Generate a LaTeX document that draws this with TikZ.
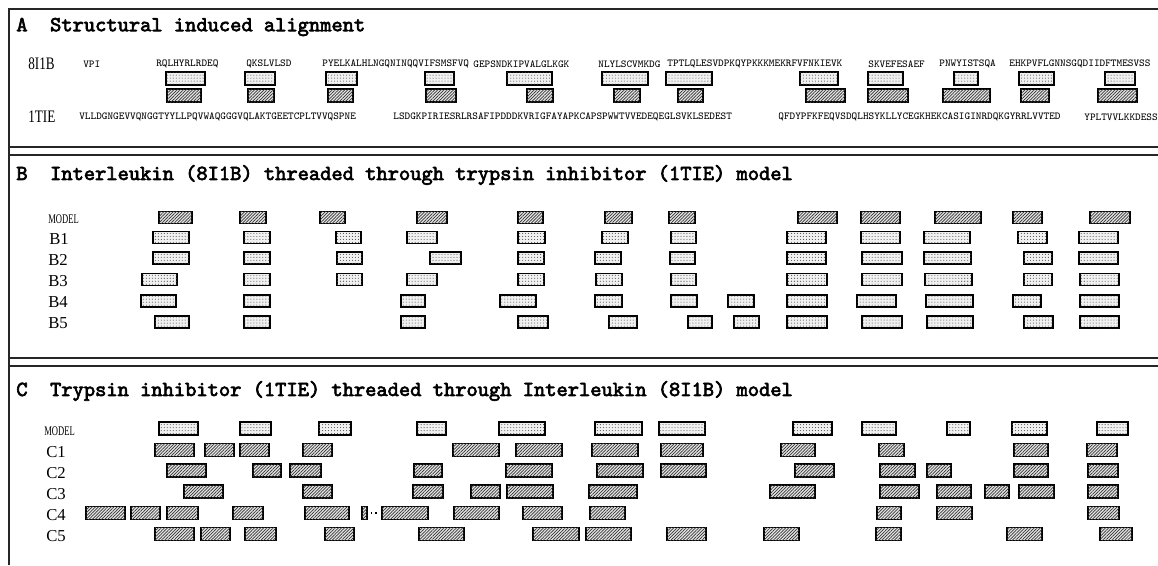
\documentclass[tikz,border=0pt]{standalone}
\usepackage{fontspec}
\setmainfont{Liberation Serif}
\newfontfamily\narrowfont[FakeStretch=0.75]{Liberation Serif}
\newfontfamily\modelfont[FakeStretch=0.65]{Liberation Serif}
\newfontfamily\titlefont[Extension=.otf, FakeBold=3]{lmmono10-regular}
\usetikzlibrary{patterns.meta}

\tikzset{
  frame/.style={line width=0.9pt, draw=black!85},
  hatchbox/.style={draw=black, line width=0.65pt, fill=black!10,
    postaction={pattern={Lines[angle=45,distance=1.25pt,line width=0.4pt]}, pattern color=black!80}},
  dotbox/.style={draw=black, line width=0.65pt, fill=black!6,
    postaction={pattern={Dots[distance=1.7pt,radius=0.3pt]}, pattern color=black!70}},
  paneltitle/.style={anchor=west, inner sep=0pt, font=\titlefont\fontsize{12.2}{14}\selectfont},
  seq/.style={anchor=west, inner sep=0pt, font=\ttfamily\fontsize{6.05}{7}\selectfont},
  rowlabel/.style={anchor=west, inner sep=0pt, font=\fontsize{9.5}{11}\selectfont},
  namelabel/.style={anchor=west, inner sep=0pt, font=\narrowfont\fontsize{10}{12}\selectfont},
  modellabel/.style={anchor=west, inner sep=0pt, font=\modelfont\fontsize{7.5}{9}\selectfont},
}

\begin{document}
\begin{tikzpicture}[x=0.02cm, y=-0.02cm]
        \useasboundingbox (0,0) rectangle (1158,565);

        % the frame and the panel rules
        \draw[frame] (1158,9) -- (9,9) -- (9,565);
        \draw[frame] (9,147) -- (1158,147);
        \draw[frame] (9,155) -- (1158,155);
        \draw[frame] (9,358) -- (1158,358);
        \draw[frame] (9,366) -- (1158,366);

        % the titles
        \node[paneltitle] (titleA) at (16,27) {A\ \ Structural induced alignment};
        \node[paneltitle] (titleB) at (16,175) {B\ \ Interleukin (8I1B) threaded through trypsin inhibitor (1TIE) model};
        \node[paneltitle] (titleC) at (16,391) {C\ \ Trypsin inhibitor (1TIE) threaded through Interleukin (8I1B) model};

        % panel A: the two sequences
        \node[namelabel] (nameI) at (28,64) {8I1B};
        \node[namelabel] (nameT) at (28,117) {1TIE};
        \node[seq] (i1) at (83,64) {VPI};
        \node[seq] (i2) at (156,64) {RQLHYRLRDEQ};
        \node[seq] (i3) at (246,64) {QKSLVLSD};
        \node[seq] (i4) at (322,64) {PYELKALHLNGQNINQQVIFSMSFVQ};
        \node[seq] (i5) at (473,64) {GEPSNDKIPVALGLKGK};
        \node[seq] (i6) at (598,64) {NLYLSCVMKDG};
        \node[seq] (i7) at (667,64) {TPTLQLESVDPKQYPKKKMEKRFVFNKIEVK};
        \node[seq] (i8) at (868,64) {SKVEFESAEF};
        \node[seq] (i9) at (939,64) {PNWYISTSQA};
        \node[seq] (i10) at (1009,64) {EHKPVFLGNNSGQDIIDFTMESVSS};
        \node[seq] (t1) at (79,117) {VLLDGNGEVVQNGGTYYLLPQVWAQGGGVQLAKTGEETCPLTVVQSPNE};
        \node[seq] (t2) at (393,117) {LSDGKPIRIESRLRSAFIPDDDKVRIGFAYAPKCAPSPWWTVVEDEQEGLSVKLSEDEST};
        \node[seq] (t3) at (778,117) {QFDYPFKFEQVSDQLHSYKLLYCEGKHEKCASIGINRDQKGYRRLVVTED};
        \node[seq] (t4) at (1084,117) {YPLTVVLKKDESS};

        % panel A: aligned segments
        \foreach \xa/\xb in {166/205, 245/275, 326/357, 425/454, 507/552, 602/648, 666/712, 800/838, 868/903, 954/978, 1019/1054, 1105/1135}
            \draw[dotbox] (\xa,72) rectangle (\xb,85);
        \foreach \xa/\xb in {167/201, 248/274, 328/353, 426/456, 527/553, 614/640, 678/703, 806/845, 868/908, 943/990, 1021/1049, 1098/1137}
            \draw[hatchbox] (\xa,89) rectangle (\xb,102);

        % panel B: row labels
        \node[modellabel] (bm) at (48,219) {MODEL};
        \node[rowlabel] (b1) at (49,239) {B1};
        \node[rowlabel] (b2) at (48,259.5) {B2};
        \node[rowlabel] (b3) at (48,281) {B3};
        \node[rowlabel] (b4) at (48,302.5) {B4};
        \node[rowlabel] (b5) at (48,323.5) {B5};

        % panel B: model (hatched) and threaded segments (dotted)
        \foreach \xa/\xb in {159/192, 240/266, 320/345, 417/447, 518/543, 605/632, 669/695, 798/837, 861/900, 935/981, 1013/1042, 1090/1130}
            \draw[hatchbox] (\xa,211.5) rectangle (\xb,223.5);
        \foreach \xa/\xb in {153/189, 244/270, 336/361, 407/437, 518/545, 602/628, 671/696, 787/826, 861/900, 924/970, 1018/1047, 1079/1118}
            \draw[dotbox] (\xa,231.5) rectangle (\xb,243.5);
        \foreach \xa/\xb in {153/189, 244/270, 337/362, 430/461, 518/544, 595/621, 670/695, 787/826, 862/902, 924/971, 1024/1052, 1079/1118}
            \draw[dotbox] (\xa,252) rectangle (\xb,264);
        \foreach \xa/\xb in {142/177, 244/270, 337/362, 407/437, 518/544, 596/622, 671/696, 787/827, 862/902, 925/972, 1024/1052, 1080/1119}
            \draw[dotbox] (\xa,273.5) rectangle (\xb,285.5);
        \foreach \xa/\xb in {141/176, 244/270, 401/425, 500/536, 595/622, 671/697, 728/754, 787/827, 857/896, 926/973, 1013/1041, 1080/1119}
            \draw[dotbox] (\xa,295) rectangle (\xb,307);
        \foreach \xa/\xb in {155/189, 244/270, 401/425, 518/548, 609/637, 688/712, 734/759, 787/827, 862/902, 927/973, 1024/1053, 1080/1119}
            \draw[dotbox] (\xa,316) rectangle (\xb,328);

        % panel C: row labels
        \node[modellabel] (cm) at (44,431) {MODEL};
        \node[rowlabel] (c1) at (46,452.5) {C1};
        \node[rowlabel] (c2) at (46,473) {C2};
        \node[rowlabel] (c3) at (46,494) {C3};
        \node[rowlabel] (c4) at (46,515.5) {C4};
        \node[rowlabel] (c5) at (46,536.5) {C5};

        % panel C: model (dotted) and threaded segments (hatched)
        \foreach \xa/\xb in {159/198, 240/271, 319/351, 417/446, 499/545, 595/642, 659/705, 793/832, 862/896, 947/970, 1012/1047, 1097/1128}
            \draw[dotbox] (\xa,422) rectangle (\xb,435);
        \foreach \xa/\xb in {155/194, 205/234, 240/269, 303/332, 453/499, 516/562, 592/638, 661/703, 781/815, 879/904, 1014/1048, 1087/1117}
            \draw[hatchbox] (\xa,443.5) rectangle (\xb,456.5);
        \foreach \xa/\xb in {167/206, 253/281, 290/321, 414/442, 506/552, 597/643, 661/706, 795/834, 880/915, 927/951, 1014/1048, 1088/1118}
            \draw[hatchbox] (\xa,464) rectangle (\xb,477);
        \foreach \xa/\xb in {184/223, 303/332, 413/443, 471/500, 507/553, 589/637, 770/815, 880/919, 937/971, 985/1009, 1019/1054, 1088/1118}
            \draw[hatchbox] (\xa,485) rectangle (\xb,498);
        \foreach \xa/\xb in {86/125, 131/160, 167/198, 233/263, 305/349, 362/367, 382/428, 454/499, 523/562, 590/625, 877/901, 937/972, 1088/1119}
            \draw[hatchbox] (\xa,506.5) rectangle (\xb,519.5);
        \foreach \xa/\xb in {155/194, 201/230, 245/276, 325/354, 419/464, 533/579, 586/631, 667/706, 764/799, 876/901, 1007/1042, 1100/1132}
            \draw[hatchbox] (\xa,527.5) rectangle (\xb,540.5);

        % the gap bridged in C4
        \coordinate (gapL) at (367,513);
        \coordinate (gapR) at (382,513);
        \draw[line width=0.8pt, dotted, shorten <=2pt, shorten >=2pt] (gapL) -- (gapR);

    \end{tikzpicture}
\end{document}
